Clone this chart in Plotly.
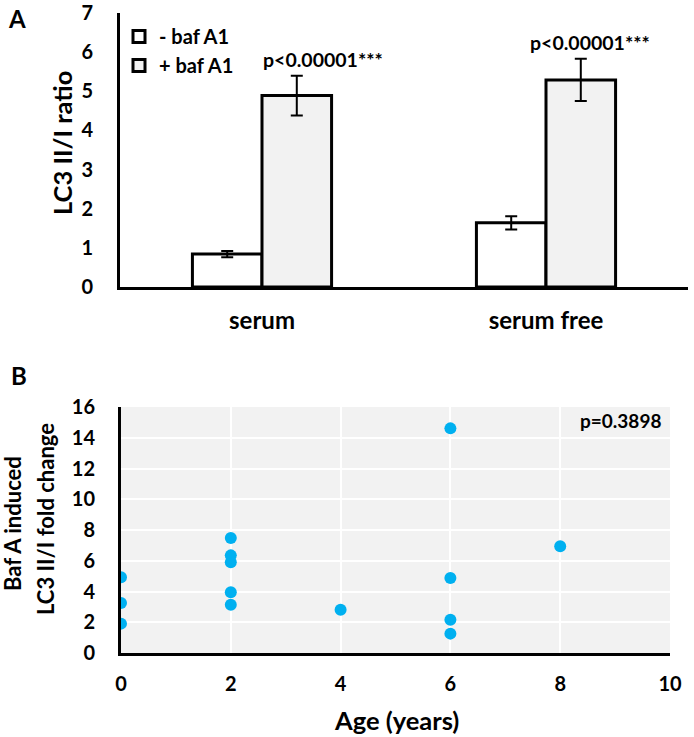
import plotly.graph_objects as go

# Panel A data
categories = ["serum", "serum free"]
minus_baf = [0.84, 1.64]
minus_err = [0.08, 0.17]
plus_baf = [4.89, 5.29]
plus_err = [0.51, 0.54]
p_labels = ["p<0.00001***", "p<0.00001***"]

# Panel B data
age = [0, 0, 0, 2, 2, 2, 2, 2, 4, 6, 6, 6, 6, 8]
fold_change = [4.92, 3.25, 1.91, 7.48, 6.35, 5.90, 3.95, 3.14, 2.82, 14.61, 4.88, 2.17, 1.26, 6.94]

FONT = "Lato"
W, H = 694, 737

def px(x):
    return x / W

def py(y):
    return 1 - y / H

fig = go.Figure()

fig.add_trace(go.Bar(
    x=categories, y=minus_baf, name="- baf A1",
    marker=dict(color="white", line=dict(color="black", width=3)),
    error_y=dict(type="data", array=minus_err, color="black", thickness=2, width=6),
    xaxis="x", yaxis="y",
))
fig.add_trace(go.Bar(
    x=categories, y=plus_baf, name="+ baf A1",
    marker=dict(color="#f2f2f2", line=dict(color="black", width=3)),
    error_y=dict(type="data", array=plus_err, color="black", thickness=2, width=6),
    xaxis="x", yaxis="y",
))

fig.add_trace(go.Scatter(
    x=age, y=fold_change, mode="markers",
    marker=dict(color="#00b0f0", size=12),
    showlegend=False, xaxis="x2", yaxis="y2",
))

def bold(size):
    return dict(family=FONT, size=size, color="black", weight="bold")

fig.update_layout(
    width=W, height=H,
    margin=dict(l=0, r=0, t=0, b=0, autoexpand=False),
    paper_bgcolor="white",
    plot_bgcolor="white",
    barmode="group", bargap=0.51, bargroupgap=0,
    font=dict(family=FONT, color="black"),
    xaxis=dict(
        domain=[px(120), px(688)], anchor="y", automargin=False,
        showline=True, linecolor="black", linewidth=3,
        ticks="", tickfont=bold(24), ticklabelstandoff=10,
        showgrid=False,
    ),
    yaxis=dict(
        domain=[py(287), py(13)], anchor="x", automargin=False,
        range=[0, 7], dtick=1,
        showline=True, linecolor="black", linewidth=3,
        ticks="", tickfont=bold(20), ticklabelstandoff=20,
        showgrid=False, zeroline=False,
    ),
    xaxis2=dict(
        domain=[px(121), px(670)], anchor="y2", automargin=False,
        range=[0, 10], dtick=2,
        showline=True, linecolor="black", linewidth=3,
        ticks="", tickfont=bold(20), ticklabelstandoff=11,
        showgrid=True, gridcolor="white", gridwidth=1.5, zeroline=False,
    ),
    yaxis2=dict(
        domain=[py(653), py(407)], anchor="x2", automargin=False,
        range=[0, 16], dtick=2,
        showline=True, linecolor="black", linewidth=3,
        ticks="", tickfont=bold(20), ticklabelstandoff=19,
        showgrid=True, gridcolor="white", gridwidth=1.5, zeroline=False,
    ),
    legend=dict(
        x=px(119), y=py(17), xanchor="left", yanchor="top",
        bgcolor="rgba(0,0,0,0)",
        font=bold(20),
        itemwidth=30, tracegroupgap=0,
    ),
)

# Grey plot area background for panel B
fig.add_shape(type="rect", xref="x2 domain", yref="y2 domain",
              x0=0, x1=1, y0=0, y1=1, fillcolor="#f2f2f2",
              line=dict(width=0), layer="below")

def note(text, x, y, size, angle=0):
    return dict(text=text, x=px(x), y=py(y), xref="paper", yref="paper",
                xanchor="center", yanchor="middle", textangle=angle,
                showarrow=False, font=bold(size))

annots = [
    note("A", 17, 19, 24),
    note("B", 19, 375, 24),
    note("p=0.3898", 620, 421, 19),
    note("LC3 II/I ratio", 62, 143, 25.5, -90),
    note("Baf A induced", 12, 524, 22, -90),
    note("LC3 II/I fold change", 45, 519, 22, -90),
    note("Age (years)", 396, 720, 25.5),
]
label_xshift = [61, 44]
for cat, val, err, lab, dx in zip(categories, plus_baf, plus_err, p_labels, label_xshift):
    annots.append(dict(text=lab, x=cat, y=val + err, xref="x", yref="y",
                       xanchor="center", yanchor="bottom",
                       xshift=dx, yshift=3, showarrow=False, font=bold(19.5)))
fig.update_layout(annotations=annots)

fig.write_html("out.html", config={"displayModeBar": False},
               post_script="document.body.style.margin='0px';")
